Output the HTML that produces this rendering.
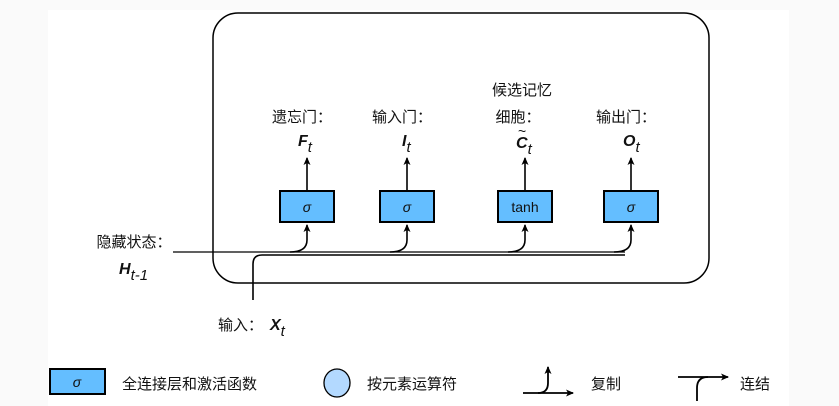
<!DOCTYPE html>
<html><head><meta charset="utf-8"><style>
html,body{margin:0;padding:0;background:#fafafa}
svg{display:block}
text{font-family:"Liberation Sans","Noto Sans CJK SC",sans-serif;fill:#111}
</style></head><body>
<svg width="839" height="406" viewBox="0 0 839 406" xmlns="http://www.w3.org/2000/svg">
<defs><marker id="a" markerWidth="8" markerHeight="8" refX="7" refY="4" orient="auto" markerUnits="userSpaceOnUse"><path d="M0,0.5 L8,4 L0,7.5 L2,4 Z" fill="#000"/></marker></defs>
<rect x="48" y="10" width="741" height="396" fill="#fff"/>
<rect x="213" y="13" width="496" height="270" rx="25" fill="none" stroke="#000" stroke-width="1.5"/>
<g fill="none" stroke="#000" stroke-width="1.6">
<line x1="173" y1="252" x2="625" y2="252" stroke-width="1.3"/>
<path d="M253,300 V264 Q253,255 262,255 H625"/>
<path d="M290,252 Q307,252 307,240 V225" marker-end="url(#a)"/>
<path d="M390,252 Q407,252 407,240 V225" marker-end="url(#a)"/>
<path d="M508,252 Q525,252 525,240 V225" marker-end="url(#a)"/>
<path d="M614,252 Q631,252 631,240 V225" marker-end="url(#a)"/>
<line x1="307" y1="191" x2="307" y2="158" marker-end="url(#a)"/>
<line x1="407" y1="191" x2="407" y2="158" marker-end="url(#a)"/>
<line x1="525" y1="191" x2="525" y2="158" marker-end="url(#a)"/>
<line x1="631" y1="191" x2="631" y2="158" marker-end="url(#a)"/>
</g>
<g fill="#64beff" stroke="#000" stroke-width="2">
<rect x="280" y="191" width="54" height="31"/>
<rect x="380" y="191" width="54" height="31"/>
<rect x="498" y="191" width="54" height="31"/>
<rect x="604" y="191" width="54" height="31"/>
<rect x="50" y="369" width="55" height="25"/>
</g>
<g font-size="14" text-anchor="middle">
<text x="307" y="212" font-style="italic">σ</text>
<text x="407" y="212" font-style="italic">σ</text>
<text x="525" y="212">tanh</text>
<text x="631" y="212" font-style="italic">σ</text>
<text x="77" y="387" font-style="italic">σ</text>
</g>
<g font-size="15" text-anchor="middle">
<text x="302" y="122">遗忘门：</text>
<text x="402" y="122">输入门：</text>
<text x="522" y="95">候选记忆</text>
<text x="518" y="122">细胞：</text>
<text x="626" y="122">输出门：</text>
<text x="134" y="247">隐藏状态：</text>
</g>
<g font-size="16" font-weight="bold" font-style="italic">
<text x="298" y="146">F<tspan font-size="15" font-weight="normal" dy="6">t</tspan></text>
<text x="402" y="146">I<tspan font-size="15" font-weight="normal" dy="6">t</tspan></text>
<text x="516" y="148">C<tspan font-size="15" font-weight="normal" dy="6">t</tspan></text>
<text x="623" y="146">O<tspan font-size="15" font-weight="normal" dy="6">t</tspan></text>
<text x="119" y="274">H<tspan font-size="15" font-weight="normal" dy="6">t-1</tspan></text>
<text x="270" y="330">X<tspan font-size="15" font-weight="normal" dy="6">t</tspan></text>
</g>
<text x="518" y="136" font-size="14">~</text>
<text x="218" y="330" font-size="15">输入：</text>
<g font-size="15">
<text x="122" y="389">全连接层和激活函数</text>
<text x="367" y="389">按元素运算符</text>
<text x="591" y="389">复制</text>
<text x="740" y="389">连结</text>
</g>
<ellipse cx="337" cy="383" rx="13" ry="14" fill="#b3d9ff" stroke="#000" stroke-width="1.3"/>
<g fill="none" stroke="#000" stroke-width="1.8">
<path d="M523,393 H573" marker-end="url(#a)"/>
<path d="M538,393 Q548,393 548,383 V367" marker-end="url(#a)"/>
<path d="M678,377 H728" marker-end="url(#a)"/>
<path d="M697,401 V388 Q697,377 708,377"/>
</g>
</svg>
</body></html>
